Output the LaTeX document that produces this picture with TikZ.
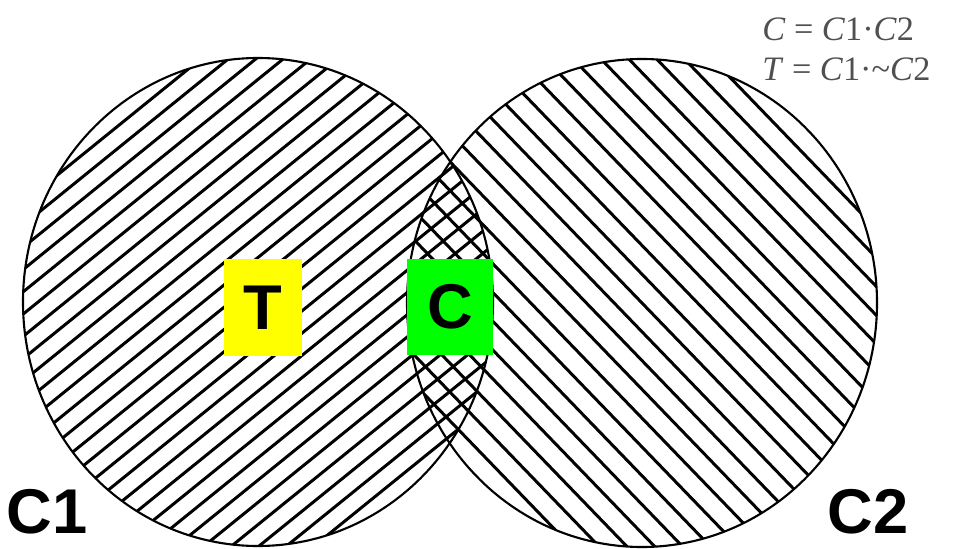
\documentclass[tikz,border=0pt]{standalone}
\usepackage{fontspec}
\setmainfont{Liberation Serif}
\newfontfamily\labelfont{Liberation Sans}
\definecolor{boxgreen}{RGB}{0,255,0}
\definecolor{boxyellow}{RGB}{255,255,0}
\definecolor{formulagray}{RGB}{80,80,80}
\tikzset{
  hatchline/.style={line width=1.7pt},
  rim/.style={line width=1.2pt},
  setbox/.style={inner sep=0pt, font=\labelfont\bfseries\fontsize{36}{36}\selectfont},
  setname/.style={inner sep=0pt, font=\labelfont\bfseries\fontsize{36}{36}\selectfont},
}
\begin{document}
\begin{tikzpicture}[x=0.02cm,y=0.02cm]
\useasboundingbox (0,0) rectangle (969,548);

% hatching of C1
\begin{scope}
\clip (258,246) ellipse [x radius=235, y radius=244];
\begin{scope}[rotate around={39:(258,246)}]
\foreach \k in {-15,...,15}
  \draw[hatchline] (-2,246+\k*17.3) -- (518,246+\k*17.3);
\end{scope}
\end{scope}

% hatching of C2
\begin{scope}
\clip (642,245) ellipse [x radius=235, y radius=244];
\begin{scope}[rotate around={-46:(642,245)}]
\foreach \k in {-13,...,13}
  \draw[hatchline] (382,245+\k*20) -- (902,245+\k*20);
\end{scope}
\end{scope}

\draw[rim] (258,246) ellipse [x radius=235, y radius=244];
\draw[rim] (642,245) ellipse [x radius=235, y radius=244];

\node[setbox, fill=boxyellow, minimum width=1.56cm, minimum height=1.94cm] (tbox) at (263,240.5) {T};
\node[setbox, fill=boxgreen, minimum width=1.72cm, minimum height=1.92cm] (cbox) at (450,241) {C};

\node[setname] (nameone) at (47,36) {C1};
\node[setname] (nametwo) at (868,36) {C2};

\node[anchor=north west, inner sep=0pt, align=left, text=formulagray,
  font=\fontsize{19.5}{23}\selectfont] (formula) at (762,531)
  {\textit{C} = \textit{C}1·\textit{C}2\\
   \textit{T} = \textit{C}1·\textasciitilde\textit{C}2};
\end{tikzpicture}
\end{document}
